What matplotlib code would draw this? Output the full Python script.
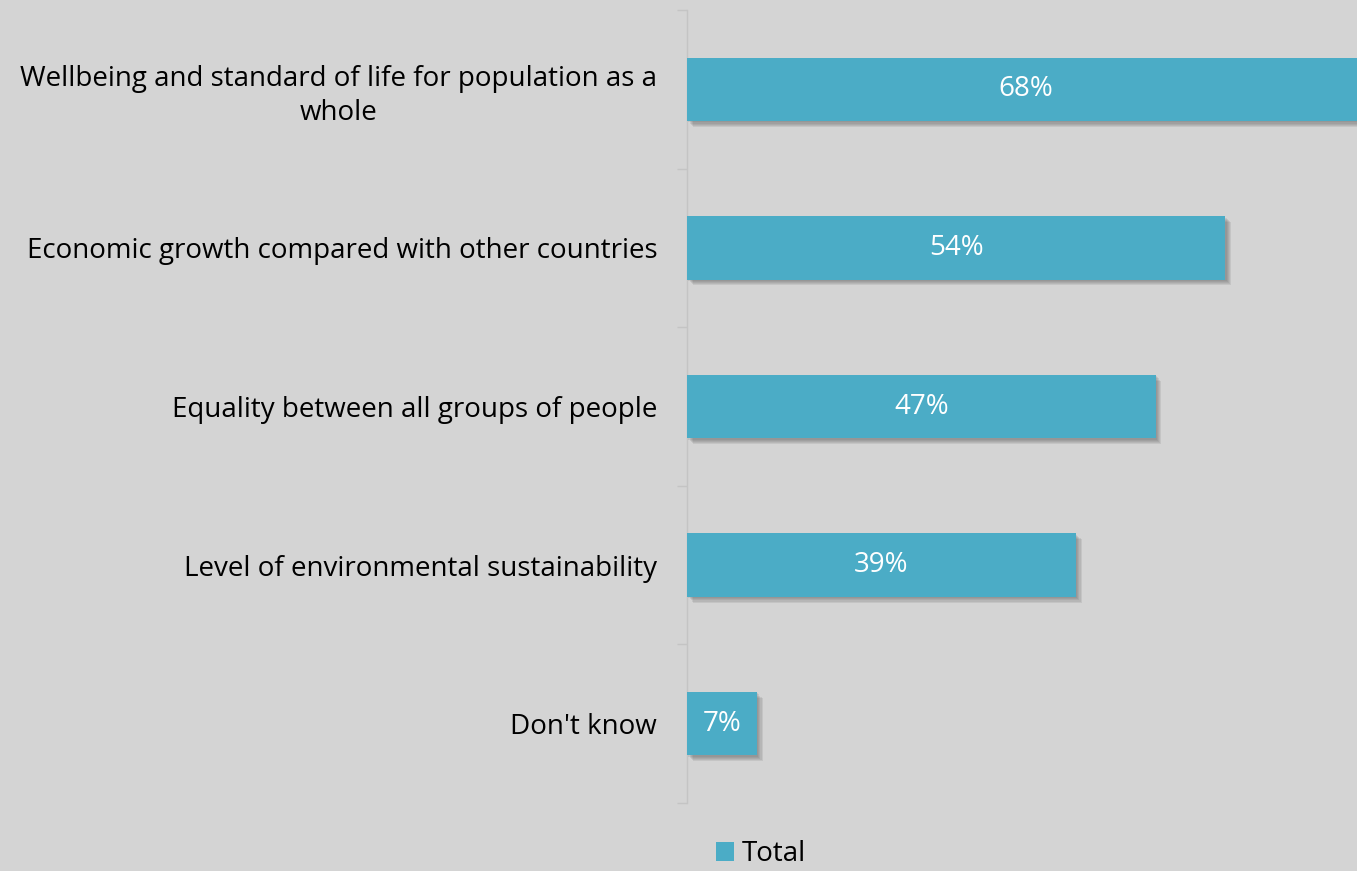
import matplotlib
matplotlib.use("Agg")
import matplotlib.pyplot as plt
import matplotlib.patheffects as pe
from matplotlib.patches import Patch
import numpy as np

categories = ["Wellbeing and standard of life for population as a\nwhole",
              "Economic growth compared with other countries",
              "Equality between all groups of people",
              "Level of environmental sustainability",
              "Don't know"]
values = [68, 54, 47, 39, 7]
series_name = "Total"

BG = "#D4D4D4"
BAR = "#4BACC6"
AX = "#C4C4C4"

plt.rcParams['font.family'] = ['Open Sans', 'DejaVu Sans']

fig = plt.figure(figsize=(13.57, 8.71), dpi=100, facecolor=BG)
ax = fig.add_axes([687/1357, 1-803/871, 1-687/1357, (803-10)/871])
ax.set_facecolor(BG)

n = len(categories)
y = np.arange(n)
bars = ax.barh(y, values, height=0.40, color=BAR, label=series_name, zorder=3)
shadow = [pe.SimplePatchShadow(offset=(d, -d), shadow_rgbFace='#5a5a5a', alpha=0.13)
          for d in (1.0, 1.8, 2.6, 3.4, 4.2)]
for b in bars:
    b.set_path_effects(shadow + [pe.Normal()])

for yi, v in zip(y, values):
    ax.text(v/2, yi, f"{v}%", ha='center', va='center', color='white', fontsize=20, zorder=4)

ax.set_xlim(0, 670/9.97)
ax.set_ylim(n-0.5, -0.5)
ax.set_yticks(y)
ax.set_yticklabels(categories, fontsize=20, multialignment='center', linespacing=1.3)
ax.tick_params(axis='y', which='major', length=0, pad=21.5)
ax.set_yticks(np.arange(n+1)-0.5, minor=True)
ax.tick_params(axis='y', which='minor', length=7.2, color=AX, width=1)
ax.set_xticks([])
for s in ['top', 'right', 'bottom']:
    ax.spines[s].set_visible(False)
ax.spines['left'].set_color(AX)
ax.spines['left'].set_linewidth(1)

handle = Patch(facecolor=BAR, edgecolor='none')
leg = fig.legend(handles=[handle], labels=[series_name], loc='center', bbox_to_anchor=(761/1357, 1-854/871),
                 frameon=False, fontsize=20, handlelength=0.65, handleheight=0.65, handletextpad=0.25,
                 borderpad=0.1)

fig.savefig("out.png", dpi=100, facecolor=BG)
